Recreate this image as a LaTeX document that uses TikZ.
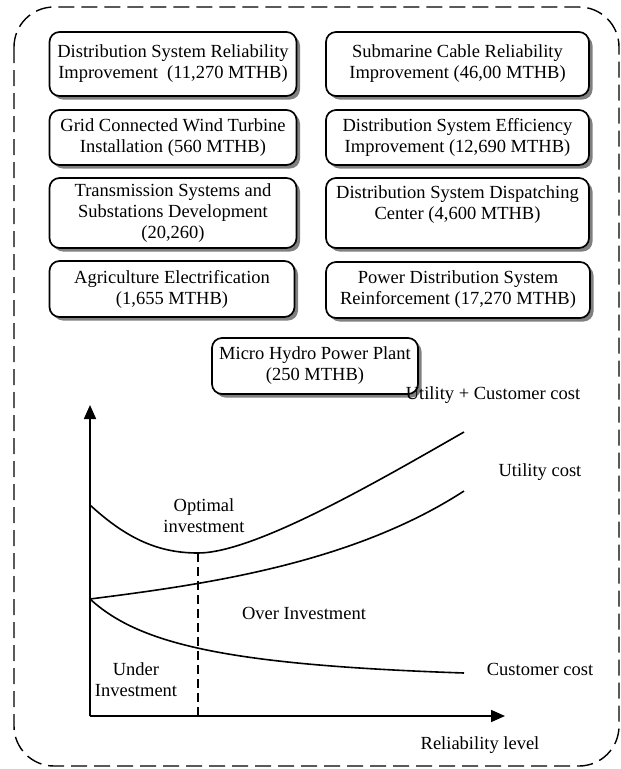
\documentclass[tikz,border=0pt]{standalone}
\usepackage{fontspec}
\setmainfont{Liberation Serif}
\usetikzlibrary{shadows,arrows.meta}
\begin{document}
\begin{tikzpicture}[x=1pt,y=-1pt,
  txt/.style={font=\fontsize{18.5}{21}\selectfont,align=center,inner sep=0pt},
  box/.style={txt,draw,line width=1.7pt,rounded corners=10pt,fill=white,
    drop shadow={shadow xshift=3.5pt,shadow yshift=-3.5pt,fill=black!50,opacity=1}},
  curve/.style={line width=1.6pt},
  axis/.style={line width=1.7pt,-{Triangle[length=14pt,width=12pt]}}]
\useasboundingbox (0,0) rectangle (621,769);
\draw[line width=1.4pt,dash pattern=on 16pt off 7pt,rounded corners=40pt] (14,7) rectangle (619,766);

\node[box,minimum width=247pt,minimum height=64pt] (l1) at (173,64) {Distribution System Reliability\\Improvement~~(11,270 MTHB)};
\node[box,minimum width=263pt,minimum height=64pt] (r1) at (457.5,64) {Submarine Cable Reliability\\Improvement (46,00 MTHB)};
\node[box,minimum width=247pt,minimum height=55pt] (l2) at (173,137.5) {Grid Connected Wind Turbine\\Installation (560 MTHB)};
\node[box,minimum width=263pt,minimum height=55pt] (r2) at (457.5,137.5) {Distribution System Efficiency\\Improvement (12,690 MTHB)};
\node[box,minimum width=247pt,minimum height=70pt] (l3) at (173,213) {Transmission Systems and\\Substations Development\\(20,260)};
\node[box,minimum width=263pt,minimum height=70pt] (r3) at (457.5,213) {Distribution System Dispatching\\Center (4,600 MTHB)\\\mbox{}};
\node[box,minimum width=245pt,minimum height=56pt] (l4) at (172,289) {Agriculture Electrification\\(1,655 MTHB)};
\node[box,minimum width=264pt,minimum height=56pt] (r4) at (458,290) {Power Distribution System\\Reinforcement (17,270 MTHB)};
\node[box,minimum width=206pt,minimum height=56pt] (mh) at (315,366) {Micro Hydro Power Plant\\(250 MTHB)};

\coordinate (O) at (90,716);
\coordinate (ytip) at (90,405);
\coordinate (xtip) at (505,716);
\coordinate (uc0) at (90,505);
\coordinate (ucmin) at (198,553);
\coordinate (uc1) at (464,432);
\coordinate (u0) at (90,599);
\coordinate (u1) at (464,491);
\coordinate (c1) at (464,673);
\coordinate (dbot) at (198,716);

\draw[axis] (O) -- (ytip);
\draw[axis] (O) -- (xtip);
\draw[curve] (uc0) .. controls (128,540) and (160,553) .. (ucmin) .. controls (255,553) and (380,480) .. (uc1);
\draw[curve] (u0) .. controls (200,585) and (350,565) .. (u1);
\draw[curve] (u0) .. controls (140,645) and (230,665) .. (c1);
\draw[line width=1.4pt,dash pattern=on 9pt off 5pt] (ucmin) -- (dbot);

\node[txt] (lbuc) at (493,395) {Utility + Customer cost};
\node[txt] (lbu) at (540,472) {Utility cost};
\node[txt] (lbopt) at (204,516) {Optimal\\investment};
\node[txt] (lbover) at (304,613) {Over Investment};
\node[txt] (lbunder) at (136,680) {Under\\Investment};
\node[txt] (lbc) at (540,669) {Customer cost};
\node[txt] (lbrel) at (480,745) {Reliability level};
\end{tikzpicture}
\end{document}
